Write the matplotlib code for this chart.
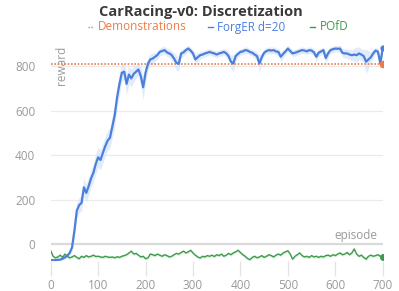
import matplotlib
matplotlib.use("Agg")
import matplotlib.pyplot as plt
import numpy as np
from matplotlib.lines import Line2D

plt.rcParams['font.family'] = ['Open Sans', 'DejaVu Sans']

title = "CarRacing-v0: Discretization"
x_label = "episode"
y_label = "reward"
series_names = ["Demonstrations", "ForgER d=20", "POfD"]
x_ticks = [0, 100, 200, 300, 400, 500, 600, 700]
y_ticks = [0, 200, 400, 600, 800]

episodes = list(range(0, 701, 5))

demonstrations = 810

forger = [
    -72, -73, -72, -71, -70, -66, -60, -52, -40, -15,
    60, 150, 175, 185, 255, 230, 260, 295, 320, 360,
    390, 378, 410, 440, 465, 478, 530, 580, 660, 720,
    770, 775, 720, 762, 745, 765, 775, 785, 755, 705,
    770, 810, 830, 834, 842, 850, 864, 868, 872, 862,
    857, 850, 834, 815, 810, 857, 862, 872, 879, 870,
    857, 830, 840, 849, 852, 857, 860, 864, 860, 857,
    852, 857, 860, 864, 858, 845, 820, 812, 845, 855,
    864, 866, 872, 870, 864, 860, 852, 845, 812, 840,
    860, 868, 872, 870, 872, 866, 864, 842, 855, 866,
    879, 868, 857, 860, 864, 868, 872, 870, 866, 872,
    870, 862, 842, 860, 866, 872, 836, 858, 872, 876,
    879, 878, 879, 860, 857, 857, 852, 849, 852, 849,
    857, 852, 845, 820, 830, 840, 857, 870, 865, 812,
    880,
]

forger_spread = [
    4, 4, 4, 4, 5, 6, 8, 10, 12, 18,
    30, 35, 35, 35, 40, 40, 40, 40, 40, 45,
    45, 45, 45, 45, 45, 45, 50, 50, 50, 50,
    40, 35, 50, 40, 40, 35, 30, 30, 45, 55,
    40, 30, 25, 25, 20, 20, 18, 18, 18, 18,
    18, 20, 25, 35, 30, 18, 18, 15, 15, 15,
    18, 25, 20, 18, 15, 15, 15, 15, 15, 15,
    15, 15, 15, 15, 18, 20, 30, 40, 20, 15,
    15, 15, 15, 15, 15, 15, 18, 20, 40, 20,
    15, 15, 15, 15, 15, 15, 15, 22, 18, 15,
    15, 15, 15, 15, 15, 15, 15, 15, 15, 15,
    15, 15, 22, 18, 15, 15, 25, 18, 15, 15,
    15, 15, 15, 20, 20, 20, 22, 25, 30, 35,
    30, 25, 30, 55, 40, 25, 20, 15, 15, 30,
    15,
]

pofd = [
    -30, -55, -62, -58, -50, -60, -45, -55, -62, -58,
    -52, -60, -66, -55, -60, -52, -58, -55, -50, -56,
    -55, -58, -60, -55, -58, -60, -58, -62, -57, -60,
    -55, -52, -48, -40, -32, -45, -42, -50, -58, -55,
    -66, -62, -45, -48, -52, -45, -50, -55, -48, -52,
    -58, -55, -48, -42, -45, -38, -32, -40, -35, -28,
    -40, -50, -58, -63, -55, -58, -52, -55, -50, -56,
    -48, -52, -45, -55, -50, -42, -48, -40, -35, -28,
    -38, -48, -55, -65, -70, -60, -55, -62, -58, -52,
    -60, -55, -48, -52, -58, -50, -45, -50, -40, -35,
    -30, -45, -68, -55, -48, -40, -52, -58, -55, -60,
    -52, -58, -55, -60, -55, -58, -52, -50, -55, -48,
    -52, -45, -40, -48, -45, -38, -48, -40, -22, -45,
    -55, -50, -60, -68, -55, -50, -55, -52, -48, -55,
    -58,
]

c_orange = "#EE7B45"
c_blue = "#4A7FDC"
c_green = "#3F9A4C"
c_grid = "#EBEBEB"
c_text = "#9A9A9A"

fig = plt.figure(figsize=(3.99, 2.91), dpi=100)
ax = fig.add_axes([50.7 / 399, 1 - 261.4 / 291, (382.7 - 50.7) / 399, (261.4 - 45) / 291])

x = np.array(episodes)
fb = np.array(forger)
fs = np.array(forger_spread)
gp = np.array(pofd)

ax.fill_between(x, fb - fs, fb + fs, color="#DCE7FA", alpha=0.8, lw=0, zorder=2)
ax.fill_between(x, gp - 7, gp + 7, color="#DDF0DF", alpha=0.8, lw=0, zorder=2)

ax.axhline(0, color="#DADADA", lw=1.6, zorder=1)
for yt in y_ticks[1:]:
    ax.axhline(yt, color=c_grid, lw=0.9, zorder=1)

ax.plot([x[0], x[-1]], [demonstrations, demonstrations], color=c_orange, lw=1.2,
        ls=(0, (1, 1)), zorder=4)
ax.plot(x[-1], demonstrations, 'o', color=c_orange, ms=4.5, zorder=5)
ax.plot(x, gp, color=c_green, lw=1.0, zorder=3)
ax.plot(x[-1], gp[-1], 'o', color=c_green, ms=4, zorder=5)
ax.plot(x, fb, color=c_blue, lw=1.6, zorder=4)
ax.plot(x[-1], fb[-1], 'o', color=c_blue, ms=3.5, zorder=5)

ax.set_xlim(0, 700)
ax.set_ylim(-78, 895)
ax.set_xticks(x_ticks)
ax.set_yticks(y_ticks)
ax.set_xticklabels([str(t) for t in x_ticks])
ax.set_yticklabels([str(t) for t in y_ticks])
ax.tick_params(axis='x', length=11, width=0.9, color="#E3E3E3", labelsize=8.5,
               labelcolor=c_text, pad=2)
ax.tick_params(axis='y', length=0, labelsize=8.5, labelcolor=c_text, pad=11)
for s in ax.spines.values():
    s.set_visible(False)

ax.text(0.985 * 700, 8, x_label, ha='right', va='bottom', fontsize=8.5, color=c_text)
ax.text(22, 892, y_label, ha='center', va='top', rotation=90, fontsize=8.5, color=c_text)

fig.text(201 / 399, 1 - 12 / 291, title, ha='center', va='center', fontsize=10.5,
         fontweight='bold', color="#3A3A3A")

# legend
ly = 1 - 27 / 291
items = [(88, 98, c_orange, (0, (1, 1)), series_names[0]),
         (208, 217, c_blue, '-', series_names[1]),
         (310, 320, c_green, '-', series_names[2])]
for hx, tx, col, ls, name in items:
    fig.add_artist(Line2D([hx / 399, (hx + 5) / 399], [ly, ly], color=col, lw=1.0, ls=ls))
    fig.text(tx / 399, ly, name, ha='left', va='center', fontsize=8.5, color=col)

fig.savefig("out.png", dpi=100)
